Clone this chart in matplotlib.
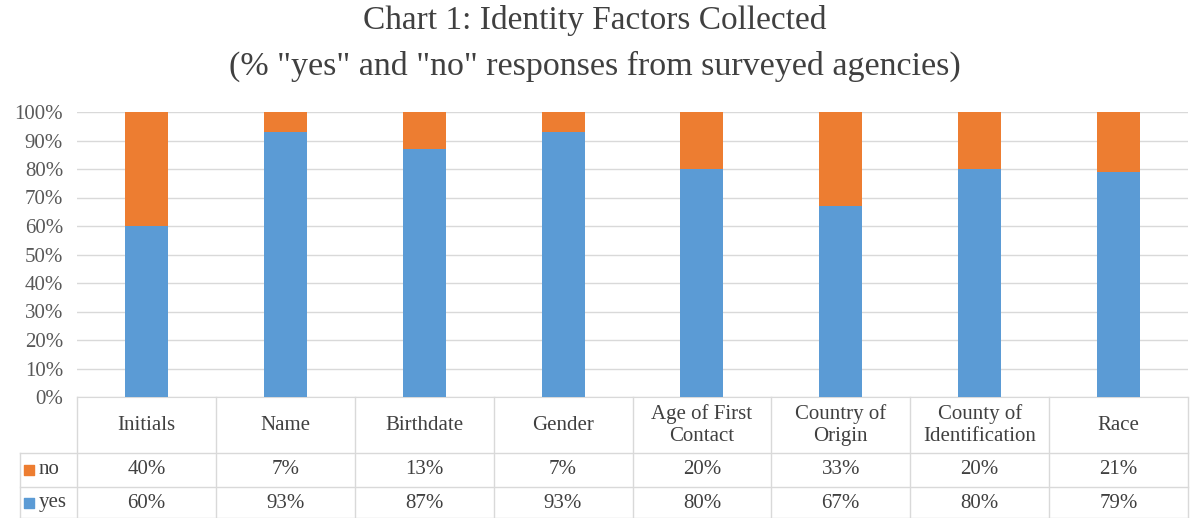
import matplotlib
matplotlib.use('Agg')
import matplotlib.pyplot as plt
import numpy as np

plt.rcParams['font.family'] = ['Liberation Serif', 'DejaVu Serif']

categories = ['Initials', 'Name', 'Birthdate', 'Gender', 'Age of First\nContact',
              'Country of\nOrigin', 'County of\nIdentification', 'Race']
yes_vals = [60, 93, 87, 93, 80, 67, 80, 79]
no_vals = [40, 7, 13, 7, 20, 33, 20, 21]
series_names = ['no', 'yes']

BLUE = '#5B9BD5'
ORANGE = '#ED7D31'
GRID = '#D9D9D9'
TXT = '#404040'
FS = 15

fig = plt.figure(figsize=(11.9, 5.18), dpi=100)
ax = fig.add_axes([77/1190, 1-397/518, (1188-77)/1190, 285/518])

x = np.arange(len(categories))
ax.bar(x, yes_vals, width=0.31, color=BLUE, zorder=3)
ax.bar(x, no_vals, width=0.31, bottom=yes_vals, color=ORANGE, zorder=3)

ax.set_xlim(-0.5, len(categories) - 0.5)
ax.set_ylim(0, 100)
ax.set_yticks(np.arange(0, 101, 10))
ax.set_yticklabels(['%d%%' % v for v in range(0, 101, 10)], fontsize=FS, color='#595959')
ax.set_xticks([])
ax.yaxis.grid(True, color=GRID, linewidth=1, zorder=0)
for s in ['top', 'right', 'left']:
    ax.spines[s].set_visible(False)
ax.spines['bottom'].set_color(GRID)
ax.tick_params(axis='y', length=0, pad=10)

fig.text(0.5, 1 - 21/518, 'Chart 1: Identity Factors Collected', ha='center', va='center',
         fontsize=24, color=TXT)
fig.text(0.5, 1 - 66/518, '(% "yes" and "no" responses from surveyed agencies)', ha='center',
         va='center', fontsize=24.5, color=TXT)

# data table below the axis
def ay(py):
    return (397 - py) / 285.0

unit = (1188 - 77) / len(categories)
leg_left = -0.5 - (77 - 20) / unit
y_top, y_no, y_yes, y_bot = ay(397), ay(453), ay(487), ay(518)

trans = ax.get_xaxis_transform()
for i in range(len(categories) + 1):
    ax.plot([i - 0.5, i - 0.5], [y_top, y_bot], color=GRID, lw=1, clip_on=False, transform=trans)
ax.plot([leg_left, leg_left], [y_no, y_bot], color=GRID, lw=1, clip_on=False, transform=trans)
for yy in [y_no, y_yes, y_bot]:
    ax.plot([leg_left, len(categories) - 0.5], [yy, yy], color=GRID, lw=1, clip_on=False, transform=trans)

for i, cat in enumerate(categories):
    ax.text(i, ay(425), cat, ha='center', va='center', fontsize=FS, color=TXT,
            transform=trans, linespacing=1.2)
    ax.text(i, ay(470), '%d%%' % no_vals[i], ha='center', va='center', fontsize=FS,
            color=TXT, transform=trans)
    ax.text(i, ay(503), '%d%%' % yes_vals[i], ha='center', va='center', fontsize=FS,
            color=TXT, transform=trans)

for name, col, py in [(series_names[0], ORANGE, 470), (series_names[1], BLUE, 503)]:
    ax.scatter([leg_left + 9/unit], [ay(py)], marker='s', s=60, color=col,
               transform=trans, clip_on=False)
    ax.text(leg_left + 19/unit, ay(py), name, ha='left', va='center', fontsize=FS,
            color=TXT, transform=trans)

fig.savefig('out.png', dpi=100)
